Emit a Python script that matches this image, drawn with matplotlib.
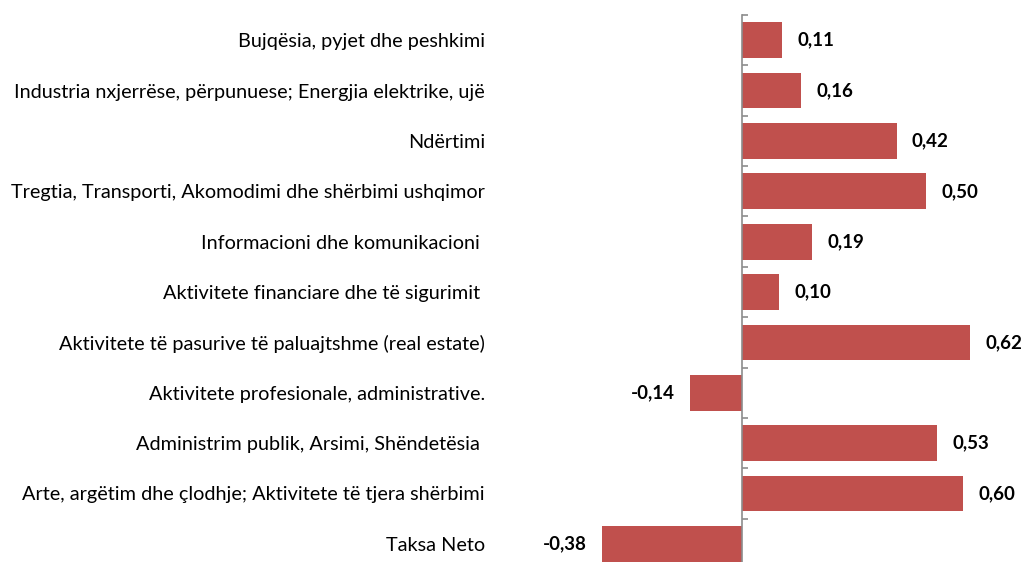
import matplotlib
matplotlib.use('Agg')
import matplotlib.pyplot as plt
import numpy as np

# Data
categories = [
    'Bujqësia, pyjet dhe peshkimi',
    'Industria nxjerrëse, përpunuese; Energjia elektrike, ujë',
    'Ndërtimi',
    'Tregtia, Transporti, Akomodimi dhe shërbimi ushqimor',
    'Informacioni dhe komunikacioni ',
    'Aktivitete financiare dhe të sigurimit ',
    'Aktivitete të pasurive të paluajtshme (real estate)',
    'Aktivitete profesionale, administrative.',
    'Administrim publik, Arsimi, Shëndetësia ',
    'Arte, argëtim dhe çlodhje; Aktivitete të tjera shërbimi',
    'Taksa Neto',
]
values = [0.11, 0.16, 0.42, 0.50, 0.19, 0.10, 0.62, -0.14, 0.53, 0.60, -0.38]
value_labels = [('%.2f' % v).replace('.', ',') for v in values]

plt.rcParams['font.family'] = ['Lato', 'DejaVu Sans']

fig = plt.figure(figsize=(10.25, 5.62), dpi=100)
ax = fig.add_axes([0.48, -0.0125, 0.52, 0.9858])

y = np.arange(len(categories))
bars = ax.barh(y, values, height=0.71, color='#C0504D')
ax.bar_label(bars, labels=value_labels, padding=11, fontsize=13.5, fontweight='bold')

ax.set_xlim(-0.679, 0.769)
ax.set_ylim(len(categories) - 0.5, -0.5)

# zero line with ticks between categories
ax.spines['left'].set_position(('data', 0))
ax.spines['left'].set_color('#8C8C8C')
ax.spines['left'].set_linewidth(1.2)
for s in ['top', 'right', 'bottom']:
    ax.spines[s].set_visible(False)
ax.set_yticks(np.arange(len(categories) + 1) - 0.5)
ax.set_yticklabels([])
ax.tick_params(axis='y', direction='in', length=4.5, width=1.2, color='#8C8C8C')
ax.set_xticks([])

# category labels on the left edge of the plot area
sec = ax.secondary_yaxis('left')
sec.set_yticks(y)
sec.set_yticklabels(categories, fontsize=14.3)
sec.tick_params(length=0, pad=5)
sec.spines['left'].set_visible(False)

fig.savefig('out.png', dpi=100)
